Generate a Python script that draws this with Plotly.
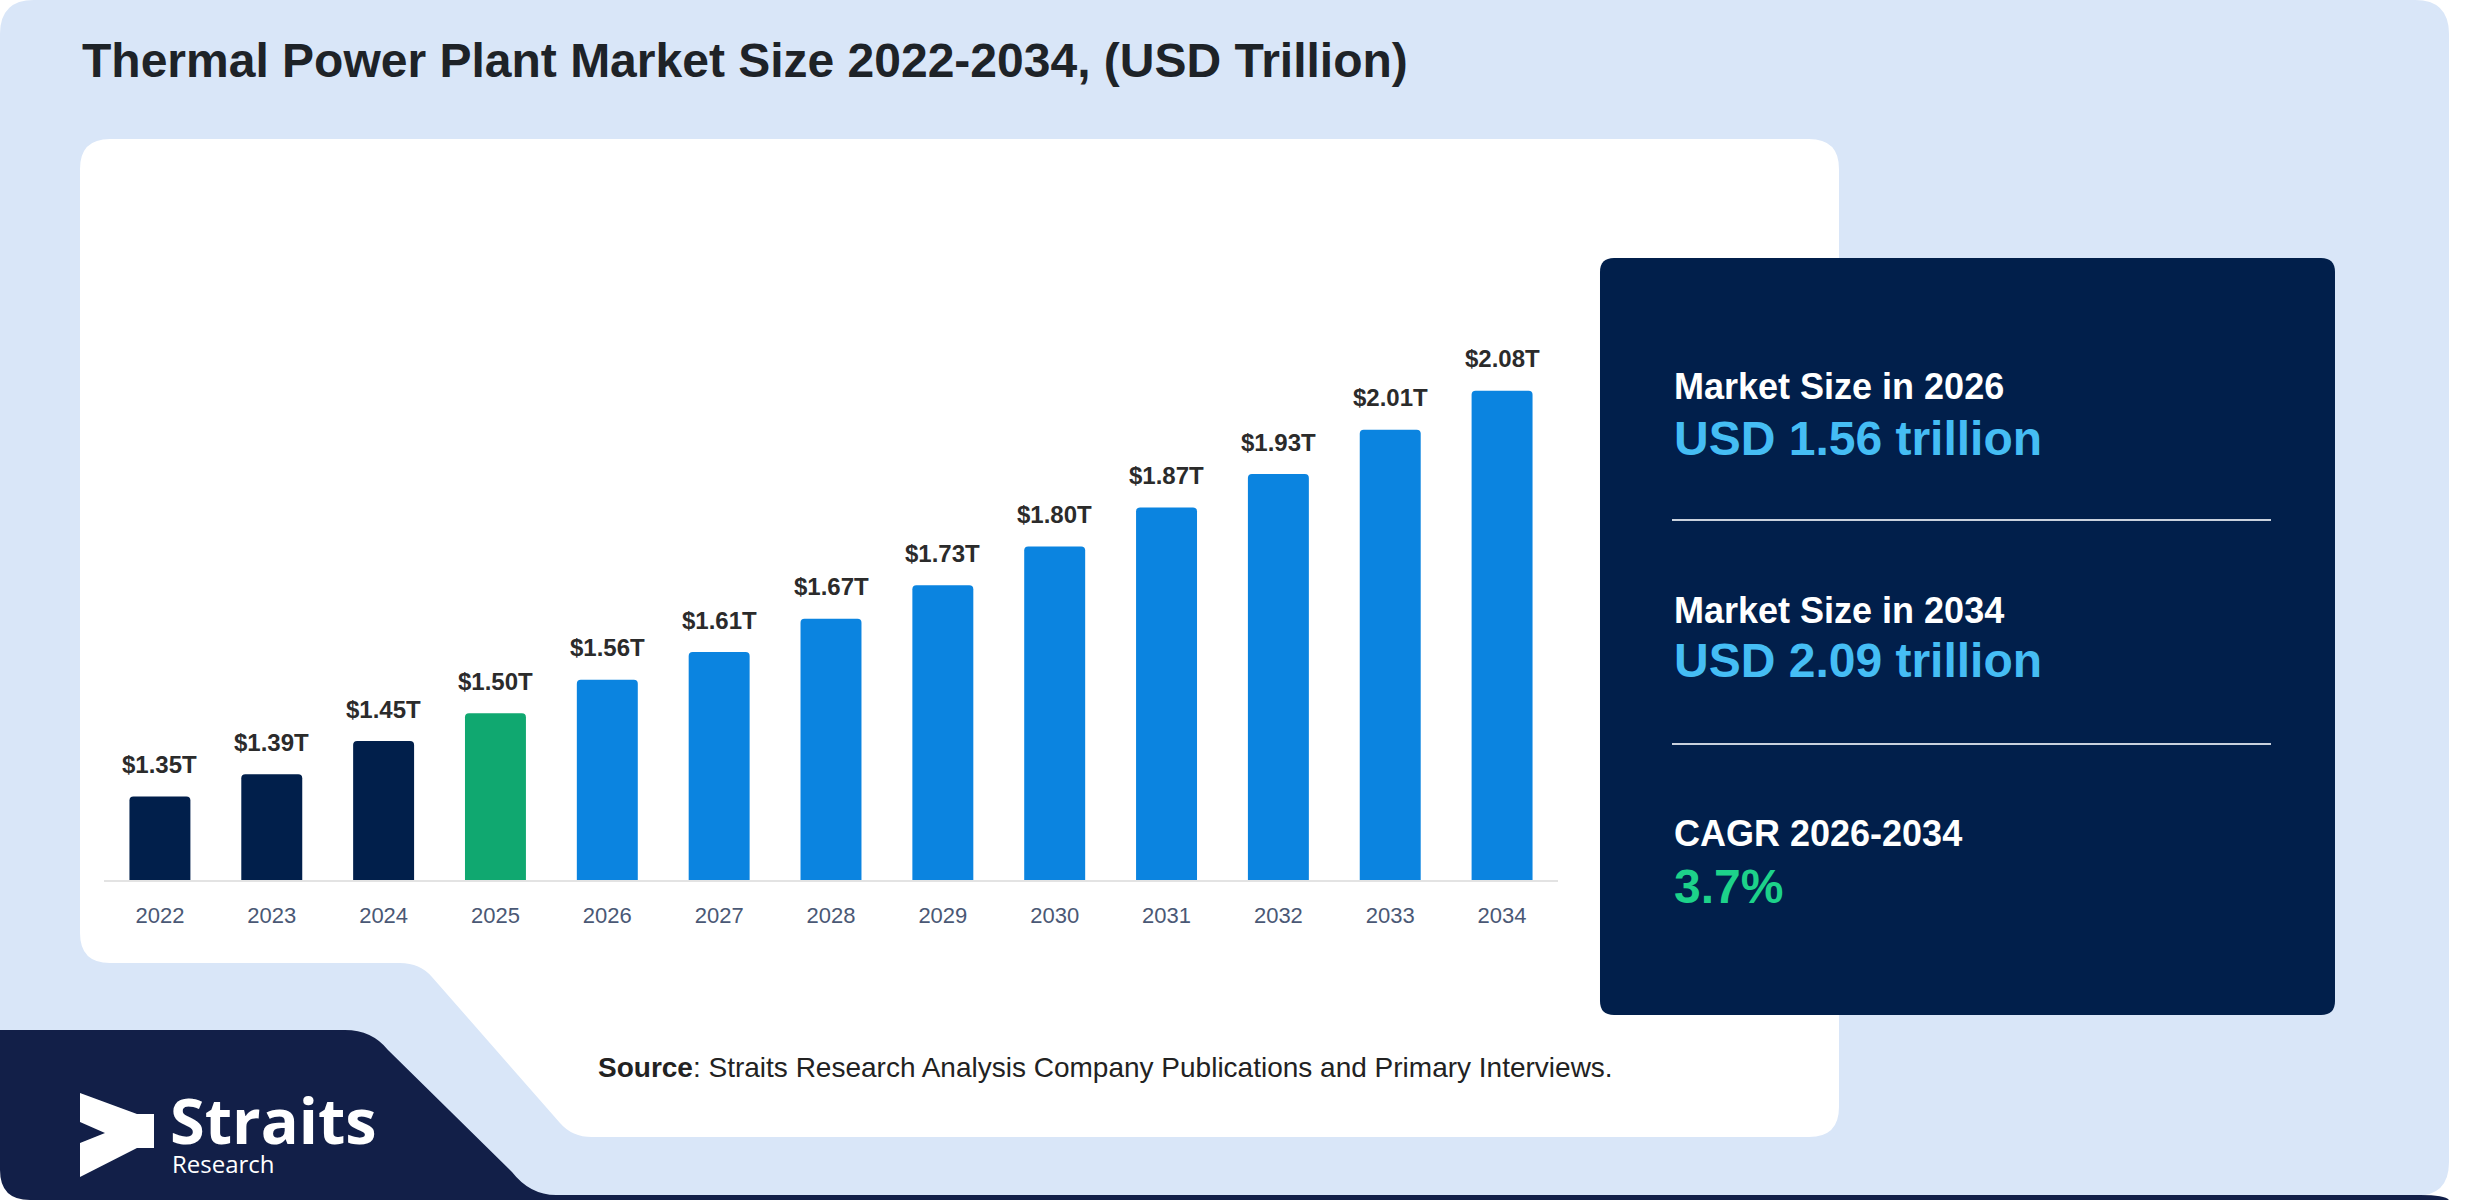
import plotly.graph_objects as go

# --- data ---
years = ["2022", "2023", "2024", "2025", "2026", "2027", "2028",
         "2029", "2030", "2031", "2032", "2033", "2034"]
values = [1.35, 1.39, 1.45, 1.50, 1.56, 1.61, 1.67, 1.73, 1.80, 1.87, 1.93, 2.01, 2.08]
periods = ["hist", "hist", "hist", "base", "fcst", "fcst", "fcst",
           "fcst", "fcst", "fcst", "fcst", "fcst", "fcst"]
value_labels = ["$1.35T", "$1.39T", "$1.45T", "$1.50T", "$1.56T", "$1.61T", "$1.67T",
                "$1.73T", "$1.80T", "$1.87T", "$1.93T", "$2.01T", "$2.08T"]

title_text = "Thermal Power Plant Market Size 2022-2034, (USD Trillion)"
kpi_labels = ["Market Size in 2026", "Market Size in 2034", "CAGR 2026-2034"]
kpi_values = ["USD 1.56 trillion", "USD 2.09 trillion", "3.7%"]
source_text = "<b>Source</b>: Straits Research Analysis Company Publications and Primary Interviews."

W, H = 2480, 1200
FONT = "Liberation Sans, Arial, sans-serif"
NAVY = "#011f4b"
period_colors = {"hist": NAVY, "base": "#10a870", "fcst": "#0b84e0"}


def px(x):
    return x / W


def py(y):
    return 1 - y / H


def path(cmds):
    # cmds in pixel coords -> svg path in paper coords
    out = []
    for c in cmds:
        op, pts = c[0], c[1:]
        if op == "Z":
            out.append("Z")
            continue
        xy = []
        for i in range(0, len(pts), 2):
            xy.append(f"{px(pts[i]):.5f},{py(pts[i + 1]):.5f}")
        out.append(op + " " + " ".join(xy))
    return " ".join(out)


def rrect(x0, y0, x1, y1, r):
    return path([("M", x0 + r, y0), ("L", x1 - r, y0), ("Q", x1, y0, x1, y0 + r),
                 ("L", x1, y1 - r), ("Q", x1, y1, x1 - r, y1), ("L", x0 + r, y1),
                 ("Q", x0, y1, x0, y1 - r), ("L", x0, y0 + r), ("Q", x0, y0, x0 + r, y0), ("Z",)])


def pshape(p, fill, layer="below"):
    return dict(type="path", xref="paper", yref="paper", path=p,
                fillcolor=fill, line=dict(width=0), layer=layer)


fig = go.Figure()

fig.add_trace(go.Bar(
    x=years, y=values,
    marker=dict(color=[period_colors[p] for p in periods], cornerradius=4, line=dict(width=0)),
    hoverinfo="x+y",
    showlegend=False,
))

shapes = []
# outer light-blue card
shapes.append(pshape(rrect(0, 0, 2449, 1196, 34), "#d9e6f8"))
# navy footer band with slanted edge
shapes.append(pshape(path([
    ("M", 0, 1030), ("L", 345, 1030), ("Q", 372, 1030, 388, 1050),
    ("L", 512, 1172), ("Q", 530, 1195, 556, 1195), ("L", 2420, 1195),
    ("Q", 2445, 1195, 2449, 1200), ("L", 30, 1200), ("Q", 0, 1200, 0, 1170), ("Z",)]), "#121f48"))
# white chart panel with cut corner
shapes.append(pshape(path([
    ("M", 110, 139), ("L", 1809, 139), ("Q", 1839, 139, 1839, 169),
    ("L", 1839, 1107), ("Q", 1839, 1137, 1809, 1137), ("L", 592, 1137),
    ("Q", 572, 1137, 560, 1123), ("L", 432, 977), ("Q", 420, 963, 400, 963),
    ("L", 110, 963), ("Q", 80, 963, 80, 933), ("L", 80, 169), ("Q", 80, 139, 110, 139), ("Z",)]), "white"))
# KPI panel
shapes.append(pshape(rrect(1600, 258, 2335, 1015, 14), NAVY))
for yy in (520, 744):
    shapes.append(dict(type="line", xref="paper", yref="paper",
                       x0=px(1672), x1=px(2271), y0=py(yy), y1=py(yy),
                       line=dict(color="#c9d1dd", width=2), layer="below"))
# logo mark
shapes.append(pshape(path([
    ("M", 80, 1093), ("L", 137, 1114), ("L", 154, 1114), ("L", 154, 1148),
    ("L", 137, 1148), ("L", 80, 1177), ("L", 80, 1143), ("L", 105, 1133),
    ("L", 80, 1122), ("Z",)]), "white", layer="above"))

annotations = []
# bar value labels (category axis -> position by index)
for i, (v, lab) in enumerate(zip(values, value_labels)):
    annotations.append(dict(x=i, y=v, xref="x", yref="y", text=f"<b>{lab}</b>", showarrow=False,
                            yanchor="middle", yshift=32,
                            font=dict(family=FONT, size=24, color="#2b2b2b")))

# title
annotations.append(dict(x=px(80), y=py(61), xref="paper", yref="paper", text=f"<b>{title_text}</b>",
                        showarrow=False, xanchor="left", yanchor="middle",
                        font=dict(family=FONT, size=48, color="#1e2328")))

# KPI texts
label_y = [386, 610, 834]
value_y = [438, 660, 886]
value_colors = ["#45bdf4", "#45bdf4", "#1dd28a"]
for lab, val, ly, vy, vc in zip(kpi_labels, kpi_values, label_y, value_y, value_colors):
    annotations.append(dict(x=px(1672), y=py(ly), xref="paper", yref="paper", text=f"<b>{lab}</b>",
                            showarrow=False, xanchor="left", yanchor="middle",
                            font=dict(family=FONT, size=36, color="white")))
    annotations.append(dict(x=px(1672), y=py(vy), xref="paper", yref="paper", text=f"<b>{val}</b>",
                            showarrow=False, xanchor="left", yanchor="middle",
                            font=dict(family=FONT, size=48, color=vc)))

# source
annotations.append(dict(x=px(596), y=py(1067), xref="paper", yref="paper", text=source_text,
                        showarrow=False, xanchor="left", yanchor="middle",
                        font=dict(family=FONT, size=28, color="#222222")))

# logo text
annotations.append(dict(x=px(168), y=py(1119), xref="paper", yref="paper", text="<b>Straits</b>",
                        showarrow=False, xanchor="left", yanchor="middle",
                        font=dict(family="Open Sans, sans-serif", size=63, color="white")))
annotations.append(dict(x=px(170), y=py(1163), xref="paper", yref="paper", text="Research",
                        showarrow=False, xanchor="left", yanchor="middle",
                        font=dict(family="Open Sans, sans-serif", size=24, color="white")))

fig.update_layout(
    width=W, height=H,
    margin=dict(l=0, r=0, t=0, b=0),
    paper_bgcolor="white",
    plot_bgcolor="rgba(0,0,0,0)",
    font=dict(family=FONT),
    bargap=0.455,
    shapes=shapes,
    annotations=annotations,
    xaxis=dict(domain=[px(104), px(1558)], type="category", range=[-0.5, len(years) - 0.5],
               showline=True, linecolor="#e3e3e3", linewidth=2,
               showgrid=False, zeroline=False, ticks="",
               ticklabelstandoff=15,
               tickfont=dict(family=FONT, size=22, color="#4a5875")),
    yaxis=dict(domain=[py(880), py(268.4)], range=[1.2, 2.3],
               visible=False, showgrid=False, zeroline=False),
)

fig.write_html("out.html", config={"displayModeBar": False},
               post_script="document.body.style.margin='0';")
